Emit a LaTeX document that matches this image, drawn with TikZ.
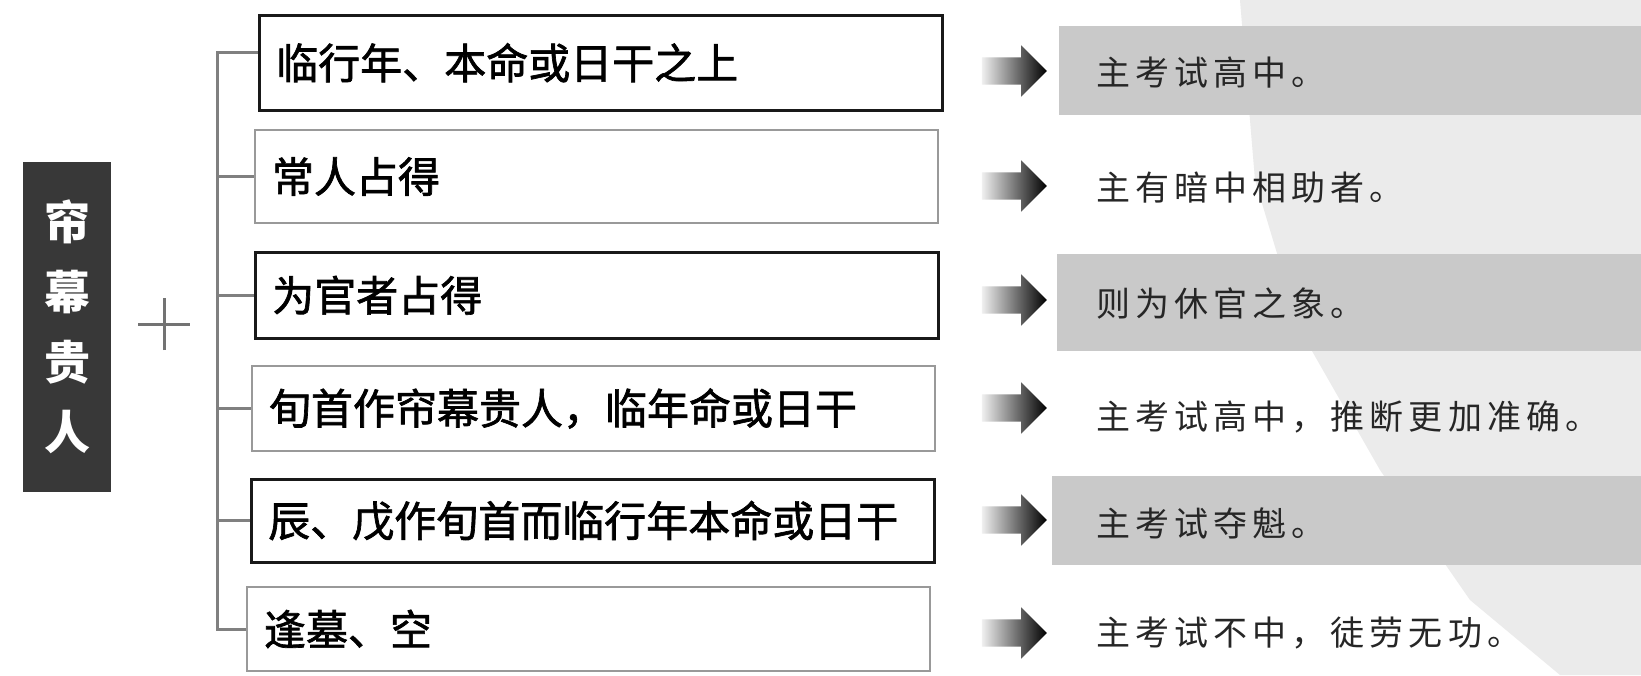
\documentclass[tikz,border=0pt]{standalone}
\usepackage{fontspec}
\newfontfamily\cjk{Noto Sans CJK SC}
\newfontfamily\cjkb{Noto Sans CJK SC}[FakeBold=1.6]
\newfontfamily\cjkr{Noto Sans CJK SC}[LetterSpace=15]
\usetikzlibrary{shapes.arrows}
\begin{document}
\begin{tikzpicture}[x=1pt,y=-1pt,
  leftbox/.style={draw, anchor=north west, text width=649pt, inner xsep=17pt, inner ysep=0pt,
    align=left, font=\cjkb\fontsize{42}{48}\selectfont},
  darkbox/.style={leftbox, draw=black!90, line width=2.5pt},
  lightbox/.style={leftbox, draw=black!40, line width=2pt},
  bracket/.style={draw=black!50, line width=3pt},
  band/.style={fill=black!21},
  arr/.style={single arrow, shape border rotate=0, minimum height=65pt, inner xsep=0pt, inner ysep=13.5pt,
    single arrow head extend=12pt, left color=black!6, right color=black, draw=none},
  result/.style={anchor=west, inner sep=0pt, text=black!85, font=\cjkr\fontsize{34}{40}\selectfont},
]
\useasboundingbox (0,0) rectangle (1641,675);
\fill[white] (0,0) rectangle (1641,675);
% watermark
\fill[black!8] (1240,0) -- (1641,0) -- (1641,675) -- (1560,675) -- (1470,600) -- (1380,470) -- (1300,330) -- (1255,180) -- cycle;
% bands
\fill[band] (1059,26) rectangle (1641,115);
\fill[band] (1057,254) rectangle (1641,351);
\fill[band] (1052,476) rectangle (1641,565);

% title
\node[fill=black!78, minimum width=88pt, minimum height=330pt, anchor=north west, inner sep=0pt,
  text=white, align=center, font=\cjk\bfseries\fontsize{46}{70}\selectfont] (title) at (23,162) {帘\\幕\\贵\\人};

% plus
\coordinate (plus) at (164,324);
\draw[black!55, line width=3pt] ([xshift=-26pt]plus) -- ([xshift=26pt]plus);
\draw[black!55, line width=3pt] ([yshift=-26pt]plus) -- ([yshift=26pt]plus);

% boxes
\node[darkbox, minimum height=95pt] (b1) at (258,14) {临行年、本命或日干之上};
\node[lightbox, minimum height=93pt] (b2) at (254,129) {常人占得};
\node[darkbox, minimum height=86pt] (b3) at (254,251) {为官者占得};
\node[lightbox, minimum height=85pt] (b4) at (251,365) {旬首作帘幕贵人，临年命或日干};
\node[darkbox, minimum height=83pt] (b5) at (250,478) {辰、戊作旬首而临行年本命或日干};
\node[lightbox, minimum height=84pt] (b6) at (246,586) {逢墓、空};

% bracket
\coordinate (sTop) at (217,52);
\draw[bracket] (sTop -| b1.west) -- (sTop) -- (b6.west -| sTop) -- (b6.west);
\foreach \b in {b2,b3,b4,b5} \draw[bracket] (\b.west -| sTop) -- (\b.west);

% arrows
\node[arr] (a1) at (1007.5,71) {};
\node[arr] (a2) at (1007.5,186) {};
\node[arr] (a3) at (1007.5,300) {};
\node[arr] (a4) at (1007.5,408) {};
\node[arr] (a5) at (1007.5,520) {};
\node[arr] (a6) at (1007.5,633) {};

% results
\node[result] (r1) at (1096,73) {主考试高中。};
\node[result] (r2) at (1096,188) {主有暗中相助者。};
\node[result] (r3) at (1096,304) {则为休官之象。};
\node[result] (r4) at (1096,417) {主考试高中，推断更加准确。};
\node[result] (r5) at (1096,523) {主考试夺魁。};
\node[result] (r6) at (1096,633) {主考试不中，徒劳无功。};
\end{tikzpicture}
\end{document}
